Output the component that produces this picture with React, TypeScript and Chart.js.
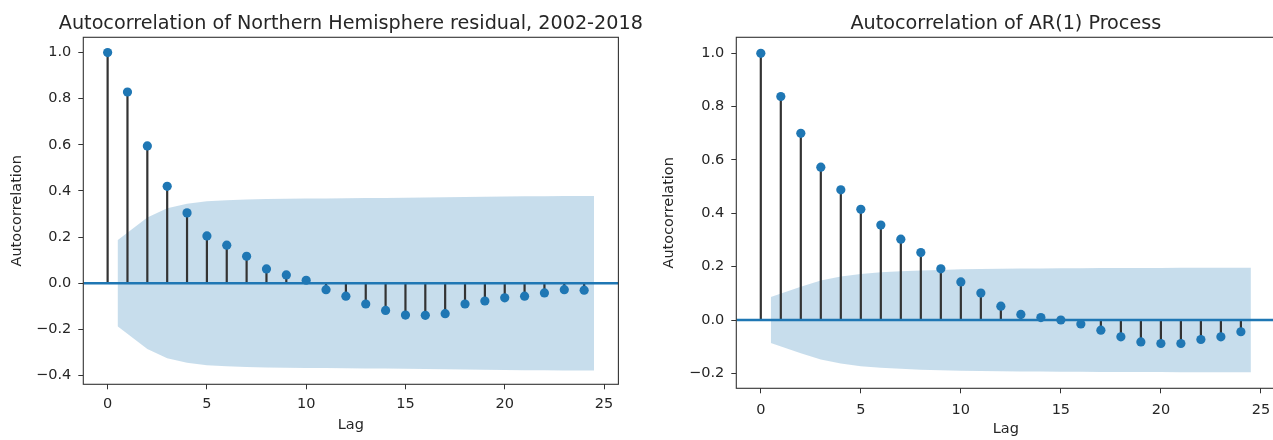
import React, { useEffect, useRef } from 'react';
import { Chart, registerables } from 'chart.js';

Chart.register(...registerables);

// Lags shown on both correlograms
const lags = [0, 1, 2, 3, 4, 5, 6, 7, 8, 9, 10, 11, 12, 13, 14, 15, 16, 17, 18, 19, 20, 21, 22, 23, 24];

// Sample autocorrelation of the Northern Hemisphere residual series
const nhAcf = [
  1.0, 0.829, 0.595, 0.42, 0.305, 0.205, 0.165, 0.117, 0.062, 0.036, 0.013, -0.028, -0.056,
  -0.09, -0.118, -0.138, -0.139, -0.132, -0.09, -0.077, -0.063, -0.056, -0.042, -0.028, -0.03,
];

// Sample autocorrelation of the simulated AR(1) process
const ar1Acf = [
  1.0, 0.838, 0.7, 0.573, 0.488, 0.415, 0.356, 0.303, 0.253, 0.192, 0.143, 0.101, 0.052,
  0.021, 0.009, 0.0, -0.015, -0.038, -0.063, -0.082, -0.088, -0.088, -0.073, -0.063, -0.044,
];

// Lag positions of the confidence band edges
const bandLags = [0.5, 2, 3, 4, 5, 6, 7, 8, 9, 10, 11, 12, 13, 14, 15, 16, 17, 18, 19, 20, 21, 22, 23, 24.5];

// 95% confidence band, Northern Hemisphere residual
const nhBandUpper = [
  0.186, 0.285, 0.325, 0.345, 0.355, 0.36, 0.363, 0.365, 0.366, 0.367, 0.367, 0.368,
  0.369, 0.37, 0.371, 0.372, 0.373, 0.374, 0.375, 0.376, 0.377, 0.377, 0.378, 0.378,
];
const nhBandLower = [
  -0.186, -0.285, -0.325, -0.345, -0.355, -0.36, -0.363, -0.365, -0.366, -0.367, -0.367, -0.368,
  -0.369, -0.37, -0.371, -0.372, -0.373, -0.374, -0.375, -0.376, -0.377, -0.377, -0.378, -0.378,
];

// 95% confidence band, AR(1) process
const ar1BandUpper = [
  0.086, 0.125, 0.148, 0.163, 0.173, 0.179, 0.183, 0.186, 0.188, 0.19, 0.191, 0.192,
  0.193, 0.193, 0.194, 0.194, 0.195, 0.195, 0.195, 0.195, 0.196, 0.196, 0.196, 0.196,
];
const ar1BandLower = [
  -0.086, -0.125, -0.148, -0.163, -0.173, -0.179, -0.183, -0.186, -0.188, -0.19, -0.191, -0.192,
  -0.193, -0.193, -0.194, -0.194, -0.195, -0.195, -0.195, -0.195, -0.196, -0.196, -0.196, -0.196,
];

// Axis limits
const lagRange = [-1.225, 25.725];
const nhRange = [-0.438, 1.066];
const ar1Range = [-0.256, 1.06];

const FONT = '"DejaVu Sans", "Noto Sans", sans-serif';
const C0 = '#1f77b4';
const INK = '#262626';
const LABEL_SIZE = 14.5;
const TITLE_SIZE = 19.2;

type Geometry = {
  left: number;
  width: number;
  yAxisWidth: number;
  xAxisHeight: number;
  padRight: number;
  yTitlePad: number;
  xTitlePad: number;
  tickPadX: number;
};

type AcfProps = {
  title: string;
  acf: number[];
  upper: number[];
  lower: number[];
  yRange: number[];
  geo: Geometry;
};

function fmtY(v: number): string {
  if (Math.abs(v) < 1e-9) return '0.0';
  return v.toFixed(1).replace('-', '\u2212');
}

function AcfPanel({ title, acf, upper, lower, yRange, geo }: AcfProps) {
  const ref = useRef<HTMLCanvasElement | null>(null);

  useEffect(() => {
    const canvas = ref.current;
    if (!canvas) return;

    const stems: any[] = [];
    lags.forEach((k, i) => {
      stems.push({ x: k, y: 0 }, { x: k, y: acf[i] }, { x: k, y: null });
    });

    const framePlugin = {
      id: 'frameAndTitle',
      afterDatasetsDraw(chart: any) {
        const { ctx, chartArea } = chart;
        const { left, right, top, bottom } = chartArea;
        ctx.save();
        ctx.strokeStyle = '#333';
        ctx.lineWidth = 1.1;
        ctx.strokeRect(left, top, right - left, bottom - top);
        ctx.restore();
      },
      afterDraw(chart: any) {
        const { ctx, chartArea } = chart;
        ctx.save();
        ctx.font = `${TITLE_SIZE}px ${FONT}`;
        ctx.fillStyle = INK;
        ctx.textAlign = 'center';
        ctx.textBaseline = 'alphabetic';
        ctx.fillText(title, (chartArea.left + chartArea.right) / 2, 28.5);
        ctx.restore();
      },
    };

    const chart = new Chart(canvas, {
      type: 'scatter',
      data: {
        datasets: [
          {
            label: 'band lower',
            data: bandLags.map((x, i) => ({ x, y: lower[i] })),
            showLine: true,
            borderWidth: 0,
            pointRadius: 0,
            fill: false,
            order: 5,
          },
          {
            label: 'band upper',
            data: bandLags.map((x, i) => ({ x, y: upper[i] })),
            showLine: true,
            borderWidth: 0,
            pointRadius: 0,
            fill: '-1',
            backgroundColor: 'rgba(31,119,180,0.25)',
            order: 4,
          },
          {
            label: 'stems',
            data: stems,
            showLine: true,
            spanGaps: false,
            borderColor: '#333',
            borderWidth: 2.2,
            borderCapStyle: 'butt',
            pointRadius: 0,
            order: 3,
          },
          {
            label: 'zero',
            data: [
              { x: lagRange[0], y: 0 },
              { x: lagRange[1], y: 0 },
            ],
            showLine: true,
            borderColor: C0,
            borderWidth: 2.4,
            pointRadius: 0,
            order: 2,
          },
          {
            label: 'acf',
            data: lags.map((k, i) => ({ x: k, y: acf[i] })),
            showLine: false,
            pointRadius: 4.6,
            pointBackgroundColor: C0,
            pointBorderColor: C0,
            pointBorderWidth: 0,
            order: 1,
          },
        ],
      },
      options: {
        responsive: false,
        animation: false,
        layout: { padding: { left: 0, right: geo.padRight, top: 37.3, bottom: 0 } },
        plugins: {
          legend: { display: false },
          tooltip: { enabled: false },
          title: { display: false },
        },
        scales: {
          x: {
            type: 'linear',
            min: lagRange[0],
            max: lagRange[1],
            afterFit: (s: any) => {
              s.height = geo.xAxisHeight;
            },
            border: { display: false },
            grid: {
              drawOnChartArea: false,
              drawTicks: true,
              tickLength: 5,
              color: '#333',
              lineWidth: 1,
            },
            ticks: {
              stepSize: 5,
              includeBounds: false,
              padding: geo.tickPadX,
              color: INK,
              font: { family: FONT, size: LABEL_SIZE },
              maxRotation: 0,
              callback: (v: any) => String(Math.round(Number(v))),
            },
            title: {
              display: true,
              text: 'Lag',
              color: INK,
              font: { family: FONT, size: LABEL_SIZE },
              padding: { top: 0, bottom: geo.xTitlePad },
            },
          },
          y: {
            type: 'linear',
            min: yRange[0],
            max: yRange[1],
            afterFit: (s: any) => {
              s.width = geo.yAxisWidth;
            },
            border: { display: false },
            grid: {
              drawOnChartArea: false,
              drawTicks: true,
              tickLength: 5,
              color: '#333',
              lineWidth: 1,
            },
            ticks: {
              stepSize: 0.2,
              includeBounds: false,
              padding: 7,
              color: INK,
              font: { family: FONT, size: LABEL_SIZE },
              callback: (v: any) => fmtY(Number(v)),
            },
            title: {
              display: true,
              text: 'Autocorrelation',
              color: INK,
              font: { family: FONT, size: LABEL_SIZE },
              padding: { top: geo.yTitlePad, bottom: 0 },
            },
          },
        },
      },
      plugins: [framePlugin],
    } as any);

    return () => chart.destroy();
  }, [title, acf, upper, lower, yRange, geo]);

  return (
    <div style={{ position: 'absolute', left: geo.left, top: 0, width: geo.width, height: 440 }}>
      <canvas ref={ref} width={geo.width} height={440} style={{ display: 'block' }} />
    </div>
  );
}

// Left panel canvas is a little wider so its long title is not cut; the
// right panel's transparent canvas sits on top of the overlap.
const leftGeo: Geometry = {
  left: 0,
  width: 670,
  yAxisWidth: 83.3,
  xAxisHeight: 55.7,
  padRight: 51.6,
  yTitlePad: 8.5,
  xTitlePad: 6,
  tickPadX: 6,
};

const rightGeo: Geometry = {
  left: 640,
  width: 640,
  yAxisWidth: 96.3,
  xAxisHeight: 51.7,
  padRight: 4.5,
  yTitlePad: 20.5,
  xTitlePad: 2,
  tickPadX: 8,
};

export default function App() {
  return (
    <div
      style={{
        position: 'absolute',
        left: 0,
        top: 0,
        width: 1273,
        height: 440,
        overflow: 'hidden',
        background: '#fff',
      }}
    >
      <AcfPanel
        title="Autocorrelation of Northern Hemisphere residual, 2002-2018"
        acf={nhAcf}
        upper={nhBandUpper}
        lower={nhBandLower}
        yRange={nhRange}
        geo={leftGeo}
      />
      <AcfPanel
        title="Autocorrelation of AR(1) Process"
        acf={ar1Acf}
        upper={ar1BandUpper}
        lower={ar1BandLower}
        yRange={ar1Range}
        geo={rightGeo}
      />
    </div>
  );
}
